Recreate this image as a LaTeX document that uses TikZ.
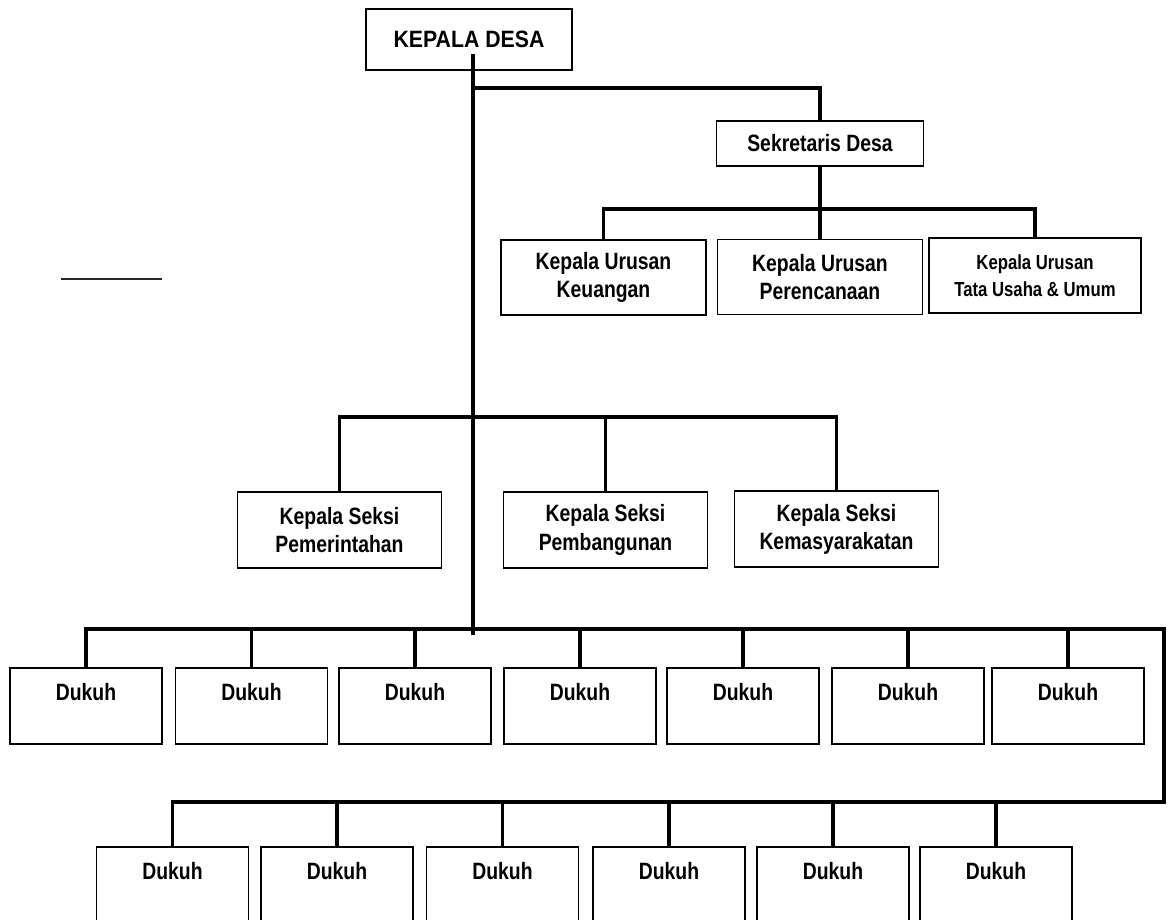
\documentclass[tikz,border=0pt]{standalone}
\usepackage{fontspec}
\newfontfamily\orgfont{Liberation Sans}[FakeStretch=0.82]
\newfontfamily\headfont{Liberation Sans}[FakeStretch=0.9]

\begin{document}
\begin{tikzpicture}[
    x=0.025cm, y=-0.025cm,
    box/.style={draw, line width=0.85pt, rectangle, inner sep=0pt, align=center,
        font=\orgfont\bfseries\fontsize{16.8}{20}\selectfont},
    kubox/.style={box, minimum width=5.125cm, minimum height=1.875cm},
    seksibox/.style={box, minimum width=5.1cm, minimum height=1.9cm},
    dukuhbox/.style={box, minimum width=3.8cm, minimum height=1.9cm, text height=12.5pt, text depth=20pt},
    bus/.style={line width=2.35pt}
]
\useasboundingbox (0,0) rectangle (1173,920);
\clip (0,0) rectangle (1173,920);

% top
\node[box, minimum width=5.15cm, minimum height=1.525cm,
    font=\headfont\bfseries\fontsize{16.8}{20}\selectfont] (kades) at (469,39.5) {KEPALA DESA};
\node[box, minimum width=5.175cm, minimum height=1.125cm] (sekdes) at (820,143.5) {Sekretaris Desa};

% kepala urusan
\node[kubox] (ku1) at (603.5,277.5) {Kepala Urusan\\Keuangan};
\node[kubox] (ku2) at (820,277) {Kepala Urusan\\Perencanaan};
\node[kubox, minimum width=5.3cm, font=\orgfont\bfseries\fontsize{14.5}{19}\selectfont] (ku3) at (1035,275.5) {Kepala Urusan\\Tata Usaha \& Umum};

% kepala seksi
\node[seksibox] (sk1) at (339.5,530) {Kepala Seksi\\Pemerintahan};
\node[seksibox] (sk2) at (605.5,530) {Kepala Seksi\\Pembangunan};
\node[seksibox] (sk3) at (836.5,529) {Kepala Seksi\\Kemasyarakatan};

% dukuh
\node[dukuhbox] (da1) at (86,706) {Dukuh};
\node[dukuhbox] (da2) at (251.5,706) {Dukuh};
\node[dukuhbox] (da3) at (415,706) {Dukuh};
\node[dukuhbox] (da4) at (580,706) {Dukuh};
\node[dukuhbox] (da5) at (743,706) {Dukuh};
\node[dukuhbox] (da6) at (908,706) {Dukuh};
\node[dukuhbox] (da7) at (1068,706) {Dukuh};

\node[dukuhbox] (db1) at (172.5,885) {Dukuh};
\node[dukuhbox] (db2) at (337,885) {Dukuh};
\node[dukuhbox] (db3) at (502.5,885) {Dukuh};
\node[dukuhbox] (db4) at (669,885) {Dukuh};
\node[dukuhbox] (db5) at (833,885) {Dukuh};
\node[dukuhbox] (db6) at (996,885) {Dukuh};

% lines
\coordinate (kdfoot) at (473,54);
\coordinate (spineend) at (473,635);
\coordinate (sekbar) at (473,88);
\coordinate (kubar) at (820,209);
\coordinate (skbar) at (606,417);
\coordinate (rturn) at (1164,629);
\coordinate (lturn) at (1164,802);

\draw[bus] (kdfoot) -- (spineend);
\draw[bus] (sekbar) -| (sekdes.north);
\draw[bus] (sekdes.south) -- (ku2.north);
\draw[bus] (ku1.north) |- (kubar) -| (ku3.north);
\draw[bus] (sk1.north) |- (skbar) -| (sk3.north);
\draw[bus] (sk2.north) -- (sk2.north |- skbar);
\draw[bus] (da1.north) |- (rturn) -- (lturn) -| (db1.north);
\foreach \n in {2,...,7}
    \draw[bus] (da\n.north) -- (da\n.north |- rturn);
\foreach \n in {2,...,6}
    \draw[bus] (db\n.north) -- (db\n.north |- lturn);

\draw[line width=1pt, black!85] (61,279) -- (162,279);
\end{tikzpicture}
\end{document}
